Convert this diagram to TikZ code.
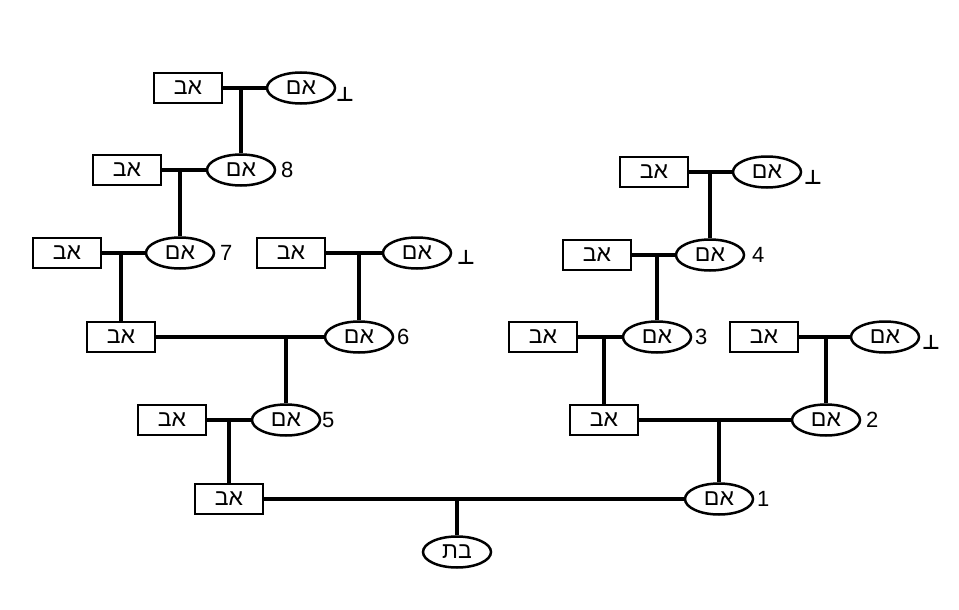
\documentclass[tikz,border=0pt]{standalone}
\usepackage{fontspec}
\setmainfont{Liberation Sans}
\newfontfamily\symfont{DejaVu Sans}
\TeXXeTstate=1
\usetikzlibrary{shapes.geometric}
\tikzset{
  male/.style={draw, line width=2.5pt, rectangle, minimum width=68pt, minimum height=30pt, inner sep=0pt, font=\fontsize{23pt}{23pt}\selectfont},
  female/.style={draw, line width=2.5pt, ellipse, minimum width=68pt, minimum height=31pt, inner sep=0pt, font=\fontsize{23pt}{23pt}\selectfont},
  link/.style={line width=3.5pt},
  num/.style={inner sep=0pt, anchor=west, font=\fontsize{22pt}{22pt}\selectfont},
  endmark/.style={inner sep=0pt, font=\symfont\bfseries\fontsize{20pt}{20pt}\selectfont}
}
\newcommand{\txtav}{\beginR אב\endR}
\newcommand{\txtem}{\beginR אם\endR}
\newcommand{\txtbat}{\beginR בת\endR}
\begin{document}
\begin{tikzpicture}[x=1pt, y=-1pt]
\useasboundingbox (0,0) rectangle (959,610);
% left branch
\node[male] (a9) at (188,88) {\txtav};
\node[female] (m9) at (301,88) {\txtem};
\node[endmark] (t9) at (345,94) {⊥};
\node[male] (a8) at (127,170) {\txtav};
\node[female] (m8) at (241,170) {\txtem};
\node[num] (n8) at (281,170) {8};
\node[male] (a7) at (67,253) {\txtav};
\node[female] (m7) at (180,253) {\txtem};
\node[num] (n7) at (220,253) {7};
\node[male] (a6b) at (291,253) {\txtav};
\node[female] (m6b) at (417,253) {\txtem};
\node[endmark] (t6) at (466,257) {⊥};
\node[male] (a6) at (121,337) {\txtav};
\node[female] (m6) at (359,337) {\txtem};
\node[num] (n6) at (397,337) {6};
\node[male] (a5) at (172,420) {\txtav};
\node[female] (m5) at (286,420) {\txtem};
\node[num] (n5) at (322,420) {5};
\node[male] (a1) at (229,499) {\txtav};
\node[female] (m1) at (719,499) {\txtem};
\node[num] (n1) at (757,499) {1};
\node[female] (bat) at (457,552) {\txtbat};
% right branch
\node[male] (a4b) at (654,172) {\txtav};
\node[female] (m4b) at (767,172) {\txtem};
\node[endmark] (t4) at (813,177) {⊥};
\node[male] (a4) at (597,255) {\txtav};
\node[female] (m4) at (710,255) {\txtem};
\node[num] (n4) at (752,255) {4};
\node[male] (a3) at (543,337) {\txtav};
\node[female] (m3) at (657,337) {\txtem};
\node[num] (n3) at (695,337) {3};
\node[male] (a2b) at (764,337) {\txtav};
\node[female] (m2b) at (885,337) {\txtem};
\node[endmark] (t2) at (931,342) {⊥};
\node[male] (a2) at (604,420) {\txtav};
\node[female] (m2) at (826,420) {\txtem};
\node[num] (n2) at (866,420) {2};
% couple lines
\foreach \f/\m in {a9/m9,a8/m8,a7/m7,a6b/m6b,a6/m6,a5/m5,a1/m1,a4b/m4b,a4/m4,a3/m3,a2b/m2b,a2/m2}
  \draw[link] (\f.east) -- (\m.west);
% descent lines
\foreach \c/\p in {m8/a9,m7/a8,a6/a7,m6/a6b,m5/a6,a1/a5,bat/a1,m4/a4b,m3/a4,a2/a3,m2/a2b,m1/a2}
  \draw[link] (\c.north) -- (\c.north |- \p.east);
\end{tikzpicture}
\end{document}
